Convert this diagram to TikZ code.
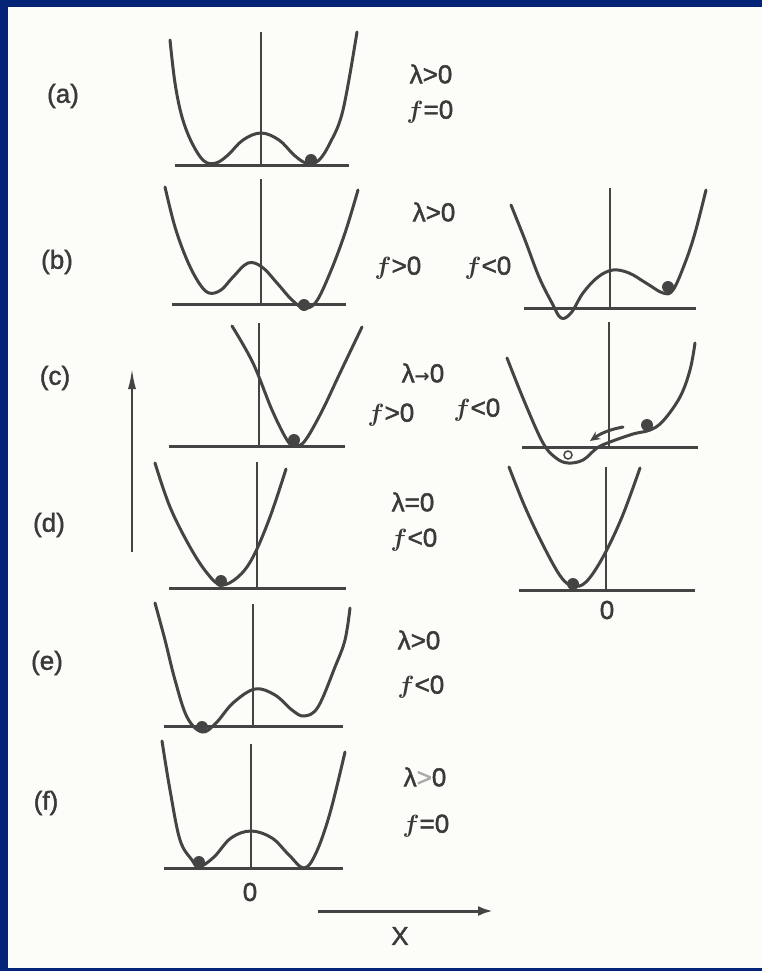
\documentclass[tikz,border=0pt]{standalone}
\usepackage{fontspec}
\setmainfont{Liberation Sans}[BoldFont={Liberation Sans}, BoldFeatures={FakeBold=1.6}]
\newfontfamily\arrowfont{DejaVu Sans}
\usetikzlibrary{arrows.meta}

\definecolor{slide}{RGB}{4,36,120}
\definecolor{paper}{RGB}{252,252,249}
\definecolor{ink}{RGB}{68,68,68}

\tikzset{
	well/.style={ink, line width=3pt, line join=round, line cap=round},
	floor/.style={ink, line width=3pt},
	axis/.style={ink, line width=1.4pt},
	ball/.style={circle, fill=ink, inner sep=0pt, minimum size=12pt},
	hole/.style={circle, draw=ink, fill=paper, line width=1.5pt, inner sep=0pt, minimum size=8pt},
	lab/.style={text=ink!85!black, font=\fontsize{26}{30}\selectfont\bfseries\boldmath, inner sep=0pt},
}

\begin{document}
\begin{tikzpicture}[x=1pt, y=-1pt]

	\useasboundingbox (0,0) rectangle (762,971);
	\fill[slide] (0,0) rectangle (762,971);
	\fill[paper] (8,7) rectangle (762,968);

	\node[lab] (a) at (63,96) {(a)};
	\node[lab] (b) at (57,262) {(b)};
	\node[lab] (c) at (55,378) {(c)};
	\node[lab] (d) at (49,525) {(d)};
	\node[lab] (e) at (47,663) {(e)};
	\node[lab] (f) at (46,803) {(f)};

	\node[lab] (la) at (431,74) {λ>0};
	\node[lab] (fa) at (430,112) {$f$=0};
	\node[lab] (lb) at (434,212) {λ>0};
	\node[lab] (fb) at (398,268) {$f$>0};
	\node[lab] (gb) at (488,268) {$f$<0};
	\node[lab] (lc) at (423,373) {λ{\arrowfont\fontsize{18}{20}\selectfont→}0};
	\node[lab] (fc) at (391,415) {$f$>0};
	\node[lab] (gc) at (477,410) {$f$<0};
	\node[lab] (ld) at (413,502) {λ=0};
	\node[lab] (fd) at (414,540) {$f$<0};
	\node[lab] (le) at (419,640) {λ>0};
	\node[lab] (fe) at (421,687) {$f$<0};
	\node[lab] (lf) at (425,777) {λ{\color{ink!45}>}0};
	\node[lab] (ff) at (426,826) {$f$=0};

	\node[lab] (zd) at (607,610) {0};
	\node[lab] (zf) at (250,892) {0};
	\node[lab] (xlab) at (400,936) {X};

	\draw[axis] (261,32) -- (261,165);
	\draw[floor] (175,165) -- (349,165);
	\draw[well] plot[smooth, tension=0.6] coordinates {(170,40) (175,83) (182,117) (192,143) (204,161) (216,163) (228,155) (243,140) (261,133) (279,140) (294,155) (306,163) (318,161) (330,143) (343,110) (357,32)};
	\node[ball] (ba) at (311,160) {};

	\draw[axis] (261,179) -- (261,304);
	\draw[floor] (172,304) -- (346,304);
	\draw[well] plot[smooth, tension=0.6] coordinates {(165,187) (175,227) (187,260) (199,283) (209,293) (221,290) (233,277) (248,263) (262,267) (277,283) (292,300) (304,308) (316,302) (330,273) (345,233) (358,190)};
	\node[ball] (bb) at (304,305) {};

	\draw[axis] (610,188) -- (610,308);
	\draw[floor] (524,308) -- (696,308);
	\draw[well] plot[smooth, tension=0.6] coordinates {(511,205) (525,240) (539,277) (552,303) (561,318) (571,313) (583,293) (598,277) (613,270) (629,273) (646,283) (663,293) (673,290) (685,263) (695,233) (706,190)};
	\node[ball] (bc) at (668,287) {};

	\draw[axis] (259,323) -- (259,446);
	\draw[floor] (169,446) -- (345,446);
	\draw[well] plot[smooth, tension=0.6] coordinates {(232,326) (253,363) (272,410) (287,440) (294,445) (304,442) (321,413) (340,373) (362,327)};
	\node[ball] (bd) at (294,440) {};

	\draw[axis] (609,322) -- (609,447);
	\draw[floor] (522,447) -- (698,447);
	\draw[well] plot[smooth, tension=0.6] coordinates {(507,358) (525,403) (543,443) (556,458) (568,463) (583,460) (597,448) (610,442) (633,434) (650,430) (663,421) (680,397) (690,370) (695,343)};
	\node[hole] (h) at (568,455) {};
	\node[ball] (be) at (647,425) {};
	\coordinate (s0) at (623,427);
	\coordinate (s1) at (590,441);
	\draw[well, -{Stealth[length=10pt, width=9pt]}] (s0) to[bend right=12] (s1);

	\draw[axis] (257,462) -- (257,588);
	\draw[floor] (169,588) -- (346,588);
	\draw[well] plot[smooth, tension=0.6] coordinates {(155,463) (170,507) (190,547) (207,573) (221,585) (238,577) (253,557) (270,517) (286,469)};
	\node[ball] (bf) at (221,581) {};

	\draw[axis] (606,467) -- (606,590);
	\draw[floor] (519,590) -- (695,590);
	\draw[well] plot[smooth, tension=0.6] coordinates {(509,467) (525,507) (544,547) (561,577) (573,586) (586,582) (603,557) (622,517) (640,468)};
	\node[ball] (bg) at (573,584) {};

	\draw[axis] (253,604) -- (253,726);
	\draw[floor] (164,726) -- (343,726);
	\draw[well] plot[smooth, tension=0.6] coordinates {(155,603) (165,640) (175,680) (187,717) (202,732) (216,723) (233,703) (255,689) (275,695) (292,710) (304,716) (318,707) (335,667) (345,640) (350,608)};
	\node[ball] (bh) at (202,727) {};

	\draw[axis] (251,744) -- (251,868);
	\draw[floor] (164,868) -- (343,868);
	\draw[well] plot[smooth, tension=0.6] coordinates {(162,741) (170,790) (180,840) (192,860) (199,867) (214,857) (231,838) (251,831) (272,838) (289,855) (304,868) (316,853) (330,813) (345,752)};
	\node[ball] (bi) at (199,862) {};

	\coordinate (up0) at (132,552);
	\coordinate (up1) at (132,369);
	\draw[ink, line width=1.8pt, -{Latex[length=20pt, width=8pt]}] (up0) -- (up1);

	\coordinate (x0) at (318,911);
	\coordinate (x1) at (493,911);
	\draw[ink, line width=3pt, -{Latex[length=15pt, width=10pt]}] (x0) -- (x1);

\end{tikzpicture}
\end{document}
